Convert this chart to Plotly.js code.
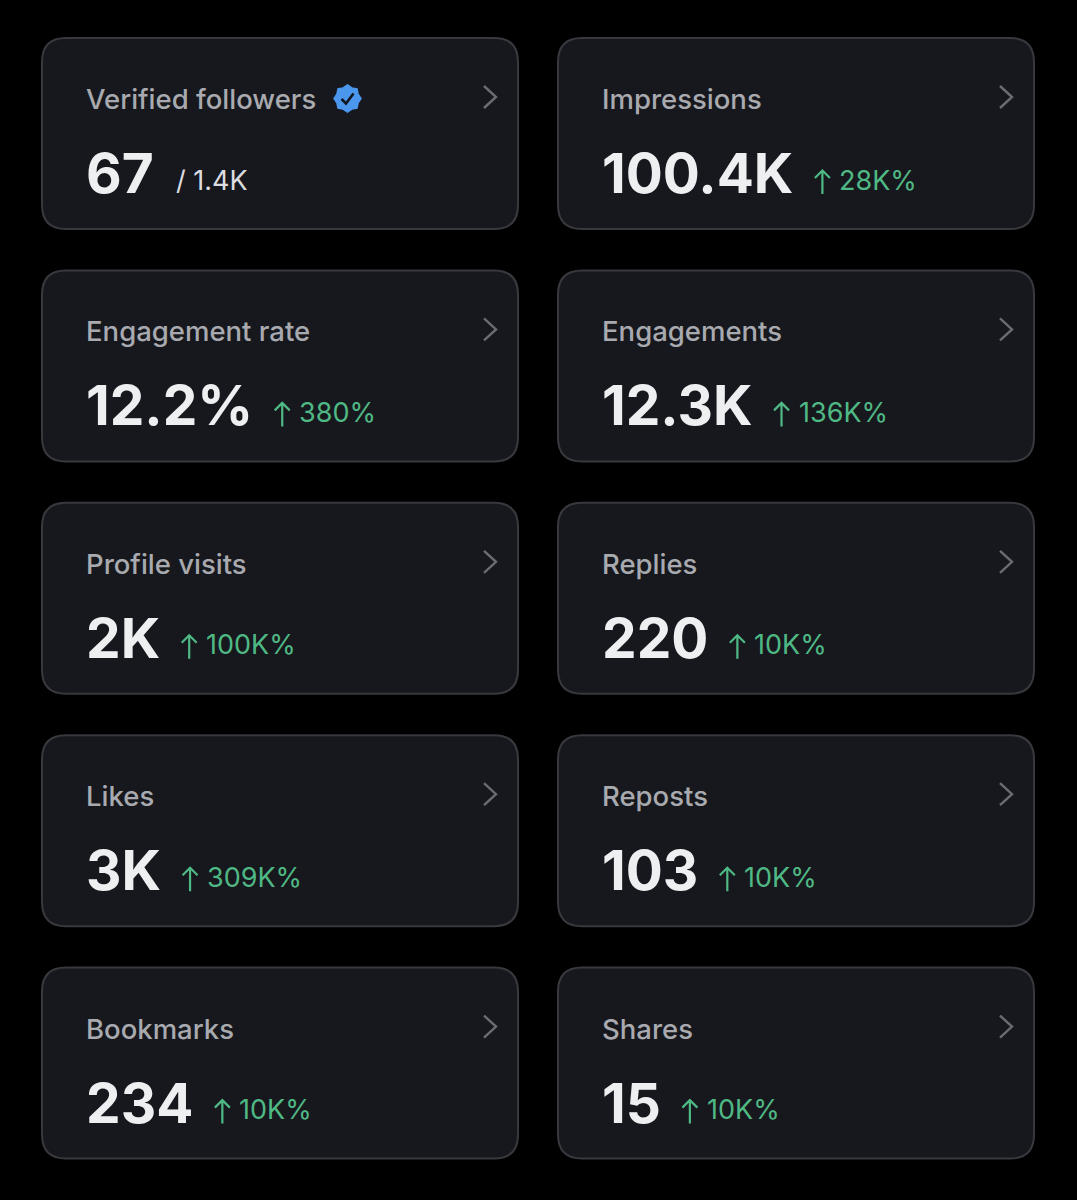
<!DOCTYPE html>
<html><head><meta charset="utf-8">
<script src="https://cdn.plot.ly/plotly-3.0.1.min.js"></script>
<style>html,body{margin:0;padding:0;background:#000;overflow:hidden}#c{width:1077px;height:1200px}</style>
</head><body><div id="c"></div>
<script>
const labels = ["Verified followers","Impressions","Engagement rate","Engagements","Profile visits","Replies","Likes","Reposts","Bookmarks","Shares"];
const values = ["67","100.4K","12.2%","12.3K","2K","220","3K","103","234","15"];
const deltas = ["/ 1.4K","28K%","380%","136K%","100K%","10K%","309K%","10K%","10K%","10K%"];

const FONT="Inter, 'Liberation Sans', sans-serif";
const colX=[42,558], cardW=476, cardH=191, rowY=i=>38+i*232.4, R=24;
const labelSize=27.5, valueSize=55, deltaSize=27;
const ctx=document.createElement('canvas').getContext('2d');
function textW(t,weight,size){ctx.font=`${weight} ${size}px Inter`;return ctx.measureText(t).width;}
function roundRect(x,y,w,h,r){return `M${x+r},${y}H${x+w-r}Q${x+w},${y} ${x+w},${y+r}V${y+h-r}Q${x+w},${y+h} ${x+w-r},${y+h}H${x+r}Q${x},${y+h} ${x},${y+h-r}V${y+r}Q${x},${y} ${x+r},${y}Z`;}

const shapes=[],annotations=[],chevX=[],chevY=[];
labels.forEach((lab,i)=>{
  const x=colX[i%2], y=rowY(Math.floor(i/2)), tx=x+42;
  shapes.push({type:'path',path:roundRect(x,y,cardW,cardH,R),fillcolor:'#17181d',line:{color:'#38393e',width:2},layer:'below'});
  annotations.push({x:tx,y:y+61,text:lab,xanchor:'left',yanchor:'middle',showarrow:false,font:{family:FONT,size:labelSize,color:'#a8aaaf',weight:500}});
  annotations.push({x:tx,y:y+135,text:values[i],xanchor:'left',yanchor:'middle',showarrow:false,font:{family:FONT,size:valueSize,color:'#eeeff1',weight:700}});
  const dx=tx+textW(values[i],700,valueSize)+22;
  if(i===0){
    annotations.push({x:dx,y:y+142,text:deltas[i],xanchor:'left',yanchor:'middle',showarrow:false,font:{family:FONT,size:deltaSize,color:'#dcdde0',weight:400}});
  }else{
    const ax=dx+9;
    shapes.push({type:'path',path:`M${ax},${y+156}V${y+132.5}M${ax-7.5},${y+140}L${ax},${y+132.5}L${ax+7.5},${y+140}`,line:{color:'#4fb985',width:2.2}});
    annotations.push({x:dx+24,y:y+142,text:deltas[i],xanchor:'left',yanchor:'middle',showarrow:false,font:{family:FONT,size:deltaSize,color:'#4fb985',weight:400}});
  }
  const cx=x+cardW-34, cy=y+59;
  chevX.push(cx-0,cx+12,cx-0,null); chevY.push(cy-11,cy,cy+11,null);
});

// verified badge (first card)
(function(){
  const cx=347.5, cy=98.5, n=8, r1=13.5, r2=11.5;
  let p='';
  for(let k=0;k<n*2;k++){const a=k/(n*2)*2*Math.PI, r=k%2?r2:r1;
    p+=(k?'L':'M')+(cx+r*Math.cos(a)).toFixed(1)+','+(cy+r*Math.sin(a)).toFixed(1);}
  shapes.push({type:'path',path:p+'Z',fillcolor:'#4b97ee',line:{color:'#4b97ee',width:1.5}});
  shapes.push({type:'path',path:`M${cx-6},${cy+.5}L${cx-1.5},${cy+5}L${cx+6},${cy-5}`,line:{color:'#12161f',width:2.6}});
})();

const traces=[{type:'scatter',mode:'lines',x:chevX,y:chevY,line:{color:'#6b6c71',width:2.4},hoverinfo:'skip',showlegend:false,connectgaps:false}];
const layout={width:1077,height:1200,margin:{l:0,r:0,t:0,b:0},paper_bgcolor:'#000',plot_bgcolor:'#000',showlegend:false,
 xaxis:{range:[0,1077],visible:false,fixedrange:true},yaxis:{range:[1200,0],visible:false,fixedrange:true},shapes,annotations};
Plotly.newPlot('c',traces,layout,{displayModeBar:false,staticPlot:true});
</script></body></html>
